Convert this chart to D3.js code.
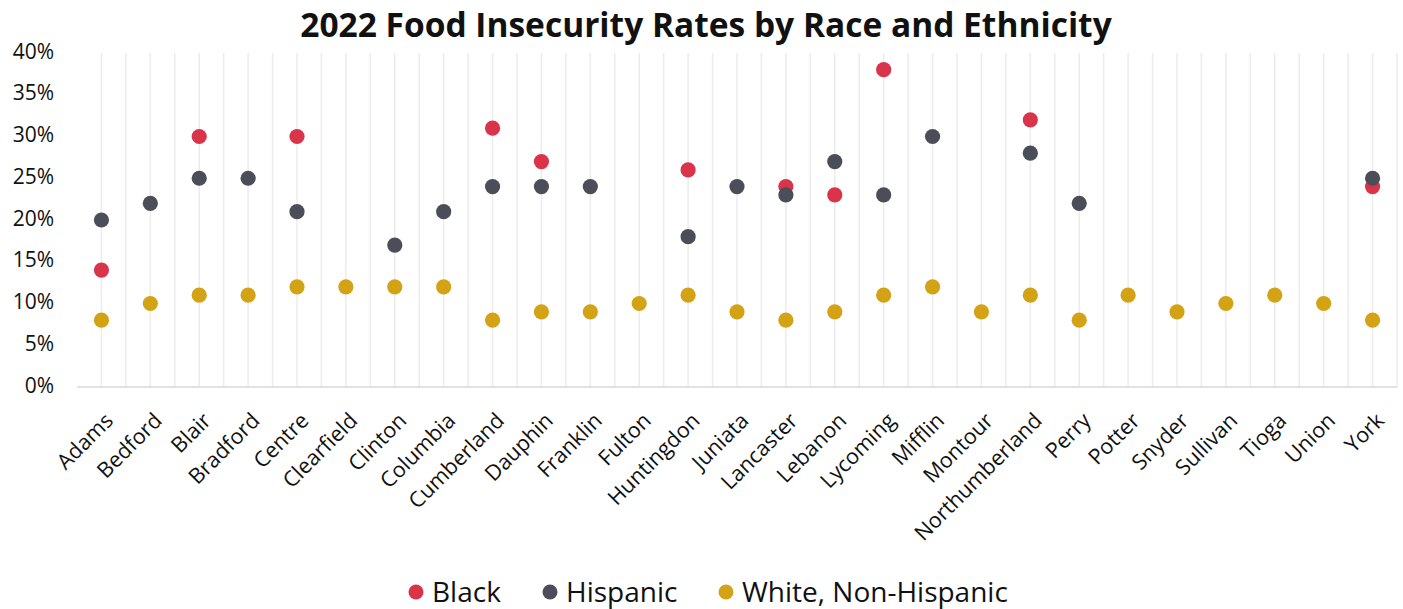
<!DOCTYPE html>
<html>
<head>
<meta charset="utf-8">
<script src="https://cdn.jsdelivr.net/npm/d3@7"></script>
<style>
  body { margin: 0; background: #fff; }
  text { font-family: "Open Sans", "Noto Sans", sans-serif; fill: #111; }
</style>
</head>
<body>
<div id="canvas"></div>
<script>
"use strict"

/* Data (percent) */
let counties = ["Adams", "Bedford", "Blair", "Bradford", "Centre", "Clearfield", "Clinton",
    "Columbia", "Cumberland", "Dauphin", "Franklin", "Fulton", "Huntingdon", "Juniata",
    "Lancaster", "Lebanon", "Lycoming", "Mifflin", "Montour", "Northumberland", "Perry",
    "Potter", "Snyder", "Sullivan", "Tioga", "Union", "York"];
// null = no value reported
let black = [14, null, 30, null, 30, null, null, null, 31, 27, null, null, 26, null,
    24, 23, 38, null, null, 32, null, null, null, null, null, null, 24];
let hispanic = [20, 22, 25, 25, 21, null, 17, 21, 24, 24, 24, null, 18, 24,
    23, 27, 23, 30, null, 28, 22, null, null, null, null, null, 25];
let white = [8, 10, 11, 11, 12, 12, 12, 12, 8, 9, 9, 10, 11, 9,
    8, 9, 11, 12, 9, 11, 8, 11, 9, 10, 11, 10, 8];
let yTicks = [0, 5, 10, 15, 20, 25, 30, 35, 40];

let seriesNames = ["Black", "Hispanic", "White, Non-Hispanic"];
let seriesColors = ["#d9344a", "#4b4e58", "#d4a215"];

/* Drawing config */
let svgWidth = 1403;
let svgHeight = 609;
let plot = { left: 77, right: 1397, top: 53, bottom: 387 };

let svg = d3.select("#canvas")
    .append("svg")
    .attr("width", svgWidth)
    .attr("height", svgHeight);

let xScale = d3.scaleBand()
    .domain(counties)
    .range([plot.left, plot.right]);

let yScale = d3.scaleLinear()
    .domain([0, 40])
    .range([plot.bottom, plot.top]);

let cx = c => xScale(c) + xScale.bandwidth() / 2;

/* vertical gridlines: at each category centre and each boundary */
let gridX = [];
counties.forEach(function (c) {
    gridX.push(cx(c));
    gridX.push(xScale(c) + xScale.bandwidth());
});

svg.append("g")
    .selectAll("line")
    .data(gridX)
    .join("line")
    .attr("x1", d => d).attr("x2", d => d)
    .attr("y1", plot.top).attr("y2", plot.bottom)
    .attr("stroke", "#ececec")
    .attr("stroke-width", 1.5);

/* x axis baseline */
svg.append("line")
    .attr("x1", plot.left).attr("x2", plot.right)
    .attr("y1", plot.bottom).attr("y2", plot.bottom)
    .attr("stroke", "#d9d9d9")
    .attr("stroke-width", 1.5);

/* y tick labels */
svg.append("g")
    .selectAll("text")
    .data(yTicks)
    .join("text")
    .attr("x", 54)
    .attr("y", d => yScale(d))
    .attr("text-anchor", "end")
    .attr("dominant-baseline", "middle")
    .style("font-size", "21px")
    .text(d => d + "%");

/* x tick labels, rotated 45 degrees */
svg.append("g")
    .selectAll("text")
    .data(counties)
    .join("text")
    .attr("transform", d => "translate(" + (cx(d) + 13) + "," + (plot.bottom + 35) + ") rotate(-45)")
    .attr("text-anchor", "end")
    .style("font-size", "21.5px")
    .text(d => d);

/* dots: Black first, then White, Hispanic on top */
let allSeries = [black, hispanic, white];
[0, 2, 1].forEach(function (s) {
    let pts = counties.map((c, i) => ({ c: c, v: allSeries[s][i] }))
        .filter(d => d.v !== null);
    svg.append("g")
        .selectAll("circle")
        .data(pts)
        .join("circle")
        .attr("cx", d => cx(d.c))
        .attr("cy", d => yScale(d.v))
        .attr("r", 7.6)
        .attr("fill", seriesColors[s]);
});

/* title */
svg.append("text")
    .attr("x", 706)
    .attr("y", 37)
    .attr("text-anchor", "middle")
    .style("font-size", "33.5px")
    .style("font-weight", "bold")
    .text("2022 Food Insecurity Rates by Race and Ethnicity");

/* legend */
let legendX = [416, 550, 726];
let legend = svg.append("g")
    .selectAll("g")
    .data(seriesNames)
    .join("g")
    .attr("transform", (d, i) => "translate(" + legendX[i] + ",592)");

legend.append("circle")
    .attr("r", 7.5)
    .attr("fill", (d, i) => seriesColors[i]);

legend.append("text")
    .attr("x", 16)
    .attr("y", 10)
    .style("font-size", "28px")
    .text(d => d);
</script>
</body>
</html>
